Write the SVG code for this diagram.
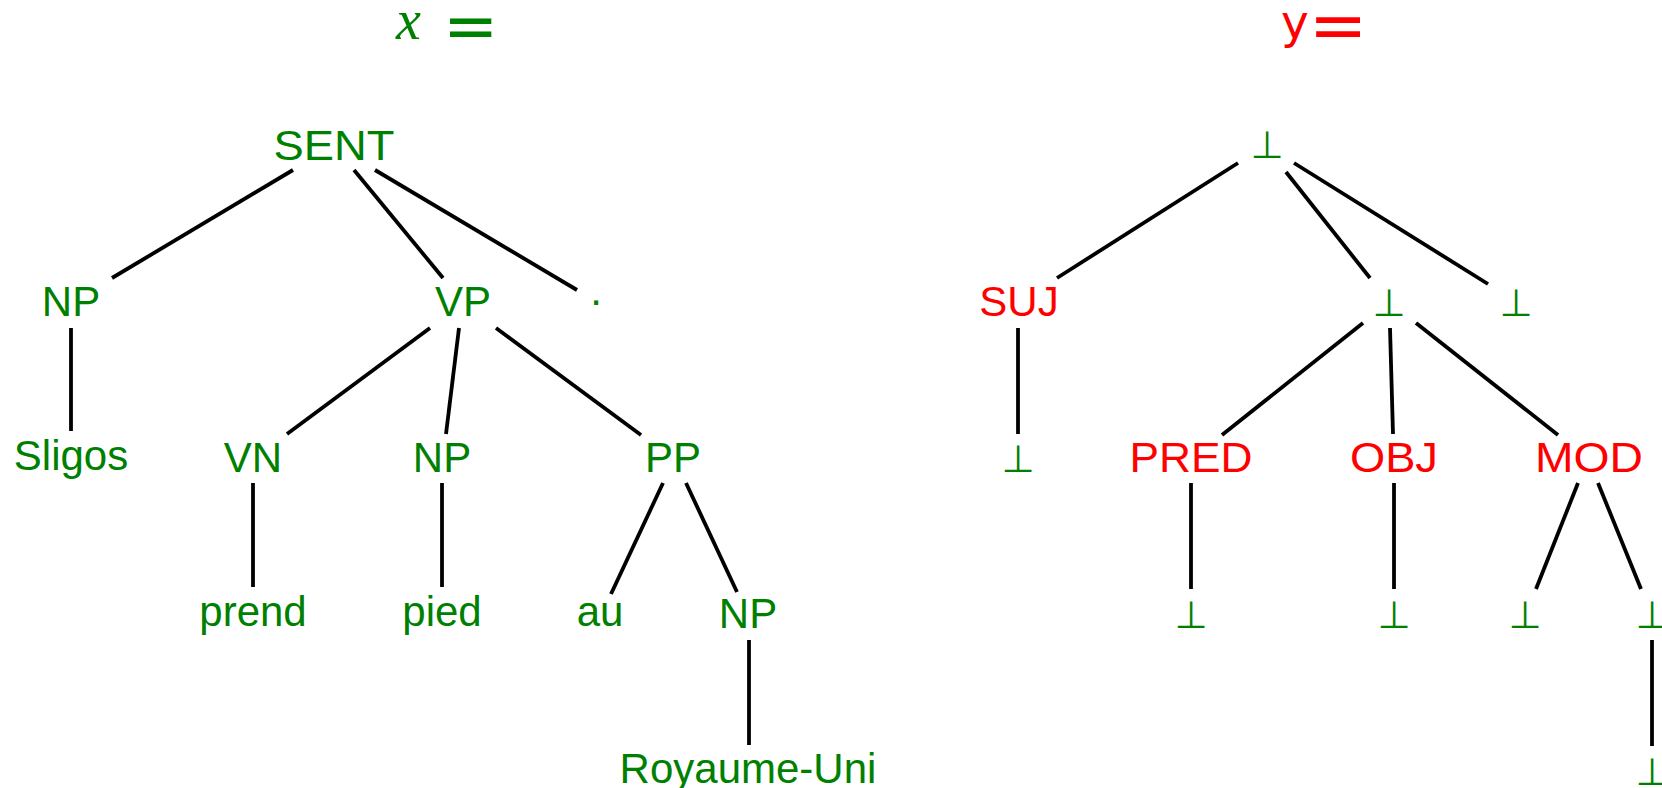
<svg xmlns="http://www.w3.org/2000/svg" width="1662" height="788" viewBox="0 0 1662 788">
<style>
.g{fill:#008000}
.r{fill:#ff0000}
.t{font-family:"Liberation Sans",Arial,sans-serif;font-size:42px;text-anchor:middle}
.b{font-family:"DejaVu Sans",sans-serif;font-size:38px;text-anchor:middle}
.e line{stroke:#000;stroke-width:3.8;stroke-linecap:butt}
</style>
<rect width="1662" height="788" fill="#fff"/>
<g id="title-x">
<text x="396" y="39" class="g" font-family="Liberation Serif,serif" font-style="italic" font-size="56">x</text>
<text x="443" y="48" class="g" font-family="DejaVu Sans,sans-serif" font-size="66">=</text>
</g>
<g id="title-y">
<text x="1281" y="38" class="r" font-family="DejaVu Sans,sans-serif" font-size="47">y<tspan font-size="70" dy="11">=</tspan></text>
</g>
<g class="e" id="edges">
<line x1="293" y1="170" x2="112" y2="278"/>
<line x1="354" y1="170" x2="443" y2="278"/>
<line x1="375" y1="170" x2="577" y2="290"/>
<line x1="71" y1="328" x2="71" y2="431"/>
<line x1="430" y1="328" x2="287" y2="434"/>
<line x1="459" y1="328" x2="446" y2="434"/>
<line x1="496" y1="328" x2="641" y2="435"/>
<line x1="253" y1="483" x2="253" y2="587"/>
<line x1="442" y1="483" x2="442" y2="587"/>
<line x1="663" y1="483" x2="611" y2="594"/>
<line x1="686" y1="483" x2="737" y2="592"/>
<line x1="749" y1="640" x2="749" y2="745"/>
<line x1="1238" y1="163" x2="1057" y2="278"/>
<line x1="1286" y1="172" x2="1370" y2="278"/>
<line x1="1294" y1="163" x2="1488" y2="284"/>
<line x1="1018" y1="328" x2="1018" y2="434"/>
<line x1="1363" y1="323" x2="1222" y2="435"/>
<line x1="1390" y1="328" x2="1393" y2="434"/>
<line x1="1416" y1="323" x2="1558" y2="435"/>
<line x1="1191" y1="483" x2="1191" y2="589"/>
<line x1="1394" y1="483" x2="1394" y2="589"/>
<line x1="1578" y1="483" x2="1536" y2="589"/>
<line x1="1598" y1="483" x2="1641" y2="589"/>
<line x1="1652" y1="640" x2="1652" y2="746"/>
</g>
<g id="n-sent"><text class="t g" x="334" y="160" textLength="121" lengthAdjust="spacingAndGlyphs">SENT</text></g>
<g id="n-np1"><text class="t g" x="71" y="316">NP</text></g>
<g id="n-vp"><text class="t g" x="463" y="316">VP</text></g>
<g id="n-dot"><text class="t g" x="596" y="305">.</text></g>
<g id="n-sligos"><text class="t g" x="71" y="470">Sligos</text></g>
<g id="n-vn"><text class="t g" x="253" y="472">VN</text></g>
<g id="n-np2"><text class="t g" x="442" y="472">NP</text></g>
<g id="n-pp"><text class="t g" x="673" y="472">PP</text></g>
<g id="n-prend"><text class="t g" x="253" y="626">prend</text></g>
<g id="n-pied"><text class="t g" x="442" y="626">pied</text></g>
<g id="n-au"><text class="t g" x="600" y="626">au</text></g>
<g id="n-np3"><text class="t g" x="748" y="628">NP</text></g>
<g id="n-ru"><text class="t g" x="748" y="783">Royaume-Uni</text></g>
<g id="n-root"><text class="b g" x="1267" y="158">⊥</text></g>
<g id="n-suj"><text class="t r" x="1019" y="316">SUJ</text></g>
<g id="n-b1"><text class="b g" x="1389" y="316">⊥</text></g>
<g id="n-b2"><text class="b g" x="1516" y="316">⊥</text></g>
<g id="n-b3"><text class="b g" x="1018" y="472">⊥</text></g>
<g id="n-pred"><text class="t r" x="1191" y="472" textLength="123" lengthAdjust="spacingAndGlyphs">PRED</text></g>
<g id="n-obj"><text class="t r" x="1394" y="472" textLength="88" lengthAdjust="spacingAndGlyphs">OBJ</text></g>
<g id="n-mod"><text class="t r" x="1589" y="472" textLength="108" lengthAdjust="spacingAndGlyphs">MOD</text></g>
<g id="n-b4"><text class="b g" x="1191" y="628">⊥</text></g>
<g id="n-b5"><text class="b g" x="1394" y="628">⊥</text></g>
<g id="n-b6"><text class="b g" x="1525" y="628">⊥</text></g>
<g id="n-b7"><text class="b g" x="1652" y="628">⊥</text></g>
<g id="n-b8"><text class="b g" x="1652" y="785">⊥</text></g>
</svg>
